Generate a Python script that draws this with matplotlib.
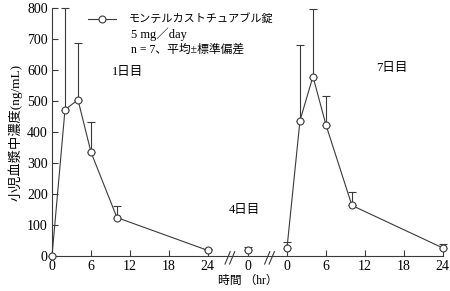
import matplotlib
matplotlib.use("Agg")
import matplotlib.pyplot as plt

plt.rcParams['font.family'] = ['Liberation Serif', 'Noto Sans CJK JP']

# 1日目
t1 = [0, 2, 4, 6, 10, 24]
m1 = [0, 472, 504, 335, 124, 18]
sd1 = [0, 328, 184, 96, 36, 6]
# 4日目 (投与前)
t4 = [0]
m4 = [20]
sd4 = [8]
# 7日目
t7 = [0, 2, 4, 6, 10, 24]
m7 = [26, 437, 579, 423, 163, 26]
sd7 = [18, 245, 218, 93, 45, 12]

tick_labels = ['0', '6', '12', '18', '24', '0', '0', '6', '12', '18', '24']

off4 = 30.2
off7 = 36.2
col = '#3a3a3a'

fig = plt.figure(figsize=(4.5, 2.91), dpi=100)
ax = fig.add_axes([0.1156, 0.1203, 0.984 - 0.1156, 0.9725 - 0.1203])

def draw(t, m, sd, off, lab=None):
    x = [v + off for v in t]
    ax.errorbar(x, m, yerr=[[0] * len(sd), sd], color=col, lw=0.8, elinewidth=0.8,
                capsize=3, capthick=0.8, marker='o', ms=5, mfc='white', mec=col,
                mew=0.8, clip_on=False, zorder=3, label=lab)

draw(t1, m1, sd1, 0)
draw(t4, m4, sd4, off4)
draw(t7, m7, sd7, off7)

ax.set_xlim(0, 60.2)
ax.set_ylim(0, 800)
ax.set_xticks([0, 6, 12, 18, 24, off4, off7, off7 + 6, off7 + 12, off7 + 18, off7 + 24])
ax.set_xticklabels(tick_labels)
ax.set_yticks(range(0, 801, 100))
ax.tick_params(direction='in', length=4, width=0.8, color=col, labelsize=10, pad=3)
ax.spines['top'].set_visible(False)
ax.spines['right'].set_visible(False)
for s in ['left', 'bottom']:
    ax.spines[s].set_color(col)
    ax.spines[s].set_linewidth(0.8)

# 軸の省略記号
for xb in [27.4, 33.5]:
    for dx in [-0.35, 0.35]:
        ax.plot([xb + dx - 0.4, xb + dx + 0.4], [-26, 14], color=col, lw=0.8,
                clip_on=False, zorder=4)

ax.text(11.7, 594, '1日目', fontsize=9, ha='center', va='center')
ax.text(29.7, 148, '4日目', fontsize=9, ha='center', va='center')
ax.text(52.3, 606, '7日目', fontsize=9, ha='center', va='center')

# 凡例
ax.plot([5.6, 9.8], [765, 765], color=col, lw=0.8, clip_on=False)
ax.plot([7.7], [765], 'o', ms=5, mfc='white', mec=col, mew=0.8, clip_on=False)
ax.text(11.8, 765, 'モンテルカストチュアブル錠', fontsize=8, va='center')
ax.text(12.1, 716, '5 mg／day', fontsize=9, va='center')
ax.text(12.1, 664, 'n = 7、平均±標準偏差', fontsize=8.5, va='center')

ax.set_xlabel('時間 （hr）', fontsize=8.5, labelpad=1)
ax.set_ylabel('小児血漿中濃度(ng/mL)', fontsize=9.5, labelpad=3)

fig.savefig('out.png', dpi=100)
